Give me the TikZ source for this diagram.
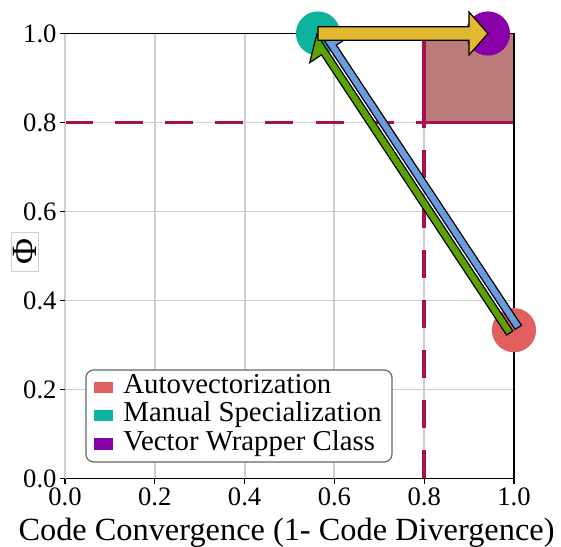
\documentclass[tikz,border=0pt]{standalone}
\usepackage{fontspec}
\setmainfont{Liberation Serif}
\usepackage{xcolor}
\usepackage{tikz}
\usetikzlibrary{calc}

\definecolor{autored}{HTML}{E15F5F}
\definecolor{manualteal}{HTML}{0DB39E}
\definecolor{wrapperpurple}{HTML}{8800A8}
\definecolor{arrowyellow}{HTML}{E3B833}
\definecolor{arrowgreen}{HTML}{5BA200}
\definecolor{arrowblue}{HTML}{6A9BDD}
\definecolor{zonefill}{HTML}{BC7B7B}
\definecolor{zonered}{HTML}{A8104A}
\definecolor{gridgray}{HTML}{CFCFCF}
\definecolor{legendgray}{HTML}{666666}

\tikzset{
  dot/.style={circle, inner sep=0pt, minimum size=22.4pt},
  gridline/.style={draw=gridgray, line width=1pt},
  zoneline/.style={draw=zonered, line width=1.8pt},
  dashline/.style={zoneline, dash pattern=on 14.2pt off 11.2pt},
  fatarrow/.style={draw=black, line width=0.6pt, line join=miter},
  ticklabel/.style={font=\fontsize{13.5}{15}\selectfont, inner sep=0pt},
  legendtext/.style={font=\fontsize{14.6}{17}\selectfont, inner sep=0pt, anchor=base west},
  legendkey/.style={minimum width=9.6pt, minimum height=6pt, inner sep=0pt},
}

\begin{document}
\begin{tikzpicture}[x=8cm, y=7.929cm]
  \useasboundingbox (-0.1448,-0.1517) rectangle (1.1047,1.0753);

  \foreach \v in {0.2,0.4,0.6,0.8} {
    \draw[gridline] (\v,0) -- (\v,1);
    \draw[gridline] (0,\v) -- (1,\v);
  }

  \fill[zonefill] (0.8,0.8) rectangle (1,1);
  \draw[zoneline] (1,0.8) -- (0.8,0.8) -- (0.8,1);
  \draw[dashline] (0,0.8) -- (0.8,0.8);
  \draw[dashline] (0.8,0) -- (0.8,0.8);

  \draw[line width=0.8pt] (0,0) rectangle (1,1);
  \draw[gridline] (0,0) -- (0,1);
  \foreach \v/\t [count=\i] in {0/0.0,0.2/0.2,0.4/0.4,0.6/0.6,0.8/0.8,1/1.0} {
    \draw[line width=0.6pt] (\v,0) -- ++(0pt,-2.6pt);
    \draw[line width=0.6pt] (0,\v) -- ++(-2.6pt,0pt);
    \node[ticklabel, anchor=north] (xt\i) at (\v,-0.021) {\t};
    \node[ticklabel, anchor=east] (yt\i) at (-0.018,\v) {\t};
  }

  \node[font=\fontsize{16.4}{19}\selectfont, anchor=base, inner sep=0pt] (xlabel) at (0.4933,-0.1385) {Code Convergence (1- Code Divergence)};
  \node[draw=gridgray, line width=0.5pt, rotate=90, font=\fontsize{18}{20}\selectfont, inner sep=1pt, minimum width=19.8pt, minimum height=13.2pt] (ylabel) at (-0.089,0.510) {Φ};

  \node[dot, fill=autored] (auto) at (1,1/3) {};
  \node[dot, fill=manualteal] (manual) at (0.5635,1) {};
  \node[dot, fill=wrapperpurple] (wrapper) at (0.942,1) {};

  \coordinate (hb) at ($(manual.center)!10pt!(auto.center)$);
  \filldraw[fatarrow, fill=arrowgreen] ($(manual.center)!0.7pt!-90:(auto.center)$) -- ($(hb)!11.7pt!-90:(auto.center)$) -- ($(hb)!4.5pt!-90:(auto.center)$) -- ($(auto.center)!4.5pt!90:(manual.center)$) -- ($(auto.center)!0.7pt!90:(manual.center)$) -- cycle;
  \filldraw[fatarrow, fill=arrowblue] ($(manual.center)!0.7pt!90:(auto.center)$) -- ($(hb)!11.7pt!90:(auto.center)$) -- ($(hb)!4.5pt!90:(auto.center)$) -- ($(auto.center)!4.5pt!-90:(manual.center)$) -- ($(auto.center)!0.7pt!-90:(manual.center)$) -- cycle;

  \coordinate (yb) at ($(wrapper.center)!9.6pt!(manual.center)$);
  \filldraw[fatarrow, fill=arrowyellow] ($(manual.center)+(0,3.4pt)$) -- ($(yb)+(0,3.4pt)$) -- ($(yb)+(0,10.9pt)$) -- (wrapper.center) -- ($(yb)-(0,10.9pt)$) -- ($(yb)-(0,3.4pt)$) -- ($(manual.center)-(0,3.4pt)$) -- cycle;

  \node[draw=legendgray, fill=white, line width=0.6pt, rounded corners=4pt, minimum width=155.2pt, minimum height=46.7pt, inner sep=0pt] (legend) at (0.3875,0.1405) {};
  \foreach \name/\col/\yk/\yt in {Autovectorization/autored/0.2045/0.1915, Manual Specialization/manualteal/0.1416/0.1276, Vector Wrapper Class/wrapperpurple/0.0782/0.064} {
    \node[legendkey, fill=\col] (key\col) at (0.0858,\yk) {};
    \node[legendtext] (lab\col) at (0.1292,\yt) {\name};
  }
\end{tikzpicture}
\end{document}
